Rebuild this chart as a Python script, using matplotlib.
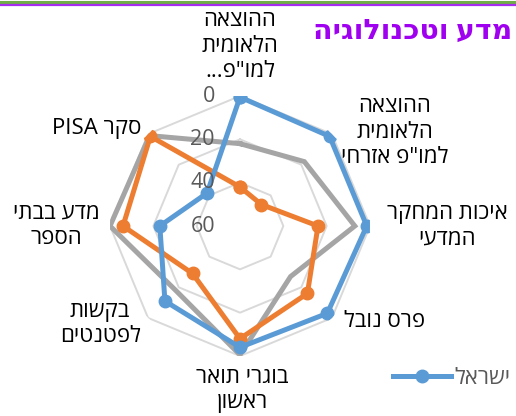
import re

import matplotlib
matplotlib.use("Agg")
import matplotlib.pyplot as plt
from matplotlib.lines import Line2D
import numpy as np

plt.rcParams["font.family"] = ["Open Sans", "DejaVu Sans"]

# categories, clockwise from the top (logical Hebrew order)
categories = [
    "ההוצאה\nהלאומית\nלמו\"פ...",
    "ההוצאה\nהלאומית\nלמו\"פ אזרחי",
    "איכות המחקר\nהמדעי",
    "פרס נובל",
    "בוגרי תואר\nראשון",
    "בקשות\nלפטנטים",
    "מדע בבתי\nהספר",
    "סקר PISA",
]
israel = [0.5, 1.5, 1.5, 3, 4, 11, 23, 38.5]
series_b = [42, 46, 24, 16, 8, 29, 6, 1.5]
series_c = [22, 18, 7, 27, 0.5, 18, 0, 1]
r_ticks = [0, 20, 40, 60]
title = "מדע וטכנולוגיה"
legend_label = "ישראל"


def vis(s):
    # visual (left-to-right) order for an RTL line
    out = []
    for line in s.split("\n"):
        toks = re.findall(r"[A-Za-z0-9]+|.", line)
        out.append("".join(reversed(toks)))
    return "\n".join(out)


n = len(categories)
ang = np.linspace(0, 2 * np.pi, n, endpoint=False).tolist()
ang_c = ang + ang[:1]

fig = plt.figure(figsize=(5.16, 4.16), dpi=100)
ax = fig.add_axes([110 / 516, (416 - 226 - 130) / 416, 260 / 516, 260 / 416],
                  projection="polar")
ax.set_theta_zero_location("N")
ax.set_theta_direction(-1)
ax.grid(False)
ax.spines["polar"].set_visible(False)
ax.set_xticks([]); ax.set_yticks([])

for v in r_ticks[:-1]:
    ax.plot(ang_c, [v] * (n + 1), color="#D9D9D9", lw=1.4, zorder=1)

ax.plot(ang_c, series_c + series_c[:1], color="#A5A5A5", lw=3.6, zorder=3,
        solid_joinstyle="miter")
ax.plot(ang_c, series_b + series_b[:1], color="#ED7D31", lw=3.6, marker="o",
        ms=9, zorder=4)
ln, = ax.plot(ang_c, israel + israel[:1], color="#5B9BD5", lw=3.6, marker="o",
              ms=9, zorder=5)
ax.set_ylim(60, 0)

for v in r_ticks:
    ax.annotate(str(v), (0, v), xytext=(-25, 0), textcoords="offset pixels",
                ha="right", va="center", fontsize=15.5, color="#595959", zorder=6)

# label offsets (pixels) from the outer vertex of each axis
offs = [(0, 50), (63, 2), (77, 0), (53, -4), (2, -34), (-48, -6), (-54, 0), (-51, 6)]
for a, lab, (dx, dy) in zip(ang, categories, offs):
    ax.annotate(vis(lab), (a, 0), xytext=(dx, dy), textcoords="offset pixels",
                ha="center", va="center", multialignment="center",
                fontsize=16, color="#000000", linespacing=1.28,
                annotation_clip=False)

fig.text(512 / 516, 1 - 31 / 416, vis(title), ha="right", va="center",
         fontsize=20.5, fontweight="bold", color="#A000F0")

fig.add_artist(Line2D([0, 1], [1 - 1.5 / 416] * 2, color="#70AD47", lw=2.2))
fig.add_artist(Line2D([0, 1], [1 - 4.5 / 416] * 2, color="#A62CF0", lw=1.6))

fig.legend(handles=[ln], labels=[vis(legend_label)], loc="center left",
           bbox_to_anchor=(393 / 516, 1 - 378 / 416), frameon=False,
           borderpad=0, borderaxespad=0, handlelength=2.6, handletextpad=0.15,
           prop={"size": 16}, labelcolor="#595959")

fig.savefig("out.png", dpi=100)
